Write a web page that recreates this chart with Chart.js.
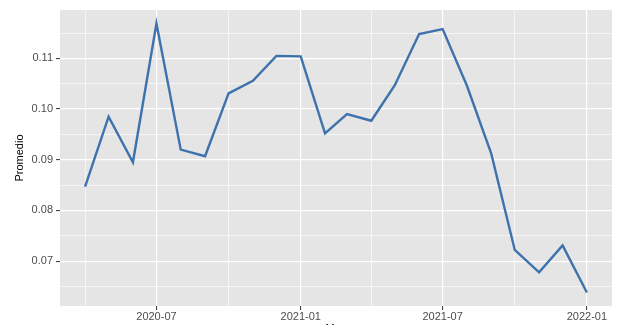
<!DOCTYPE html>
<html lang="es">
<head>
<meta charset="utf-8" />
<script src="https://cdn.jsdelivr.net/npm/chart.js@4.4.1/dist/chart.umd.min.js"></script>
<style>
  html, body { margin: 0; padding: 0; background: #fff; overflow: hidden; }
  canvas { display: block; }
</style>
<title>Promedio por mes</title>
</head>
<body>
<canvas id="grafico" width="619" height="336"></canvas>
<script>
// datos
const meses = ["2020-04", "2020-05", "2020-06", "2020-07", "2020-08", "2020-09", "2020-10", "2020-11",
  "2020-12", "2021-01", "2021-02", "2021-03", "2021-04", "2021-05", "2021-06", "2021-07",
  "2021-08", "2021-09", "2021-10", "2021-11", "2021-12", "2022-01"];
const promedio = [0.0847, 0.0985, 0.0895, 0.1169, 0.0920, 0.0907, 0.1031, 0.1056,
  0.1105, 0.1104, 0.0952, 0.0990, 0.0977, 0.1047, 0.1148, 0.1158,
  0.1046, 0.0912, 0.0722, 0.0678, 0.0731, 0.0638];
const etiquetasX = ["2020-07", "2021-01", "2021-07", "2022-01"];
const menoresX = ["2020-04", "2020-10", "2021-04", "2021-10"];
const etiquetasY = [0.07, 0.08, 0.09, 0.10, 0.11];
const menoresY = [0.065, 0.075, 0.085, 0.095, 0.105, 0.115];

// fecha "AAAA-MM" -> dias desde 1970
function dia(m) {
  return Date.UTC(Number(m.slice(0, 4)), Number(m.slice(5, 7)) - 1, 1) / 864e5;
}

const puntos = meses.map((m, i) => ({ x: dia(m), y: promedio[i] }));

// expansion del 5% como ggplot
const xs = puntos.map(p => p.x);
const xMin = Math.min(...xs), xMax = Math.max(...xs);
const yMin = Math.min(...promedio), yMax = Math.max(...promedio);
const dx = (xMax - xMin) * 0.05, dy = (yMax - yMin) * 0.05;

const fondoPanel = {
  id: "fondoPanel",
  beforeDraw(chart) {
    const { ctx, chartArea: a } = chart;
    ctx.save();
    ctx.fillStyle = "#E5E5E5";
    ctx.fillRect(a.left, a.top, a.right - a.left, a.bottom - a.top);
    ctx.restore();
  }
};

const grilla = {
  color: "#FFFFFF",
  lineWidth: c => (c.tick && c.tick.menor ? 0.6 : 1.2),
  tickColor: c => (c.tick && c.tick.menor ? "rgba(0,0,0,0)" : "#333333"),
  tickWidth: 1,
  tickLength: 4
};

new Chart(document.getElementById("grafico").getContext("2d"), {
  type: "line",
  data: {
    datasets: [{
      data: puntos,
      borderColor: "#3D72AC",
      borderWidth: 2.4,
      pointRadius: 0,
      tension: 0,
      fill: false
    }]
  },
  plugins: [fondoPanel],
  options: {
    responsive: false,
    animation: false,
    devicePixelRatio: 1,
    layout: { padding: { top: 10, right: 7, left: 0, bottom: 0 } },
    plugins: { legend: { display: false }, tooltip: { enabled: false } },
    scales: {
      x: {
        type: "linear",
        min: xMin - dx,
        max: xMax + dx,
        afterBuildTicks: s => {
          s.ticks = menoresX.map(m => ({ value: dia(m), menor: true }))
            .concat(etiquetasX.map(m => ({ value: dia(m) })))
            .sort((a, b) => a.value - b.value);
        },
        afterFit: s => { s.height = 30; },
        grid: grilla,
        border: { display: false },
        ticks: {
          autoSkip: false,
          maxRotation: 0,
          padding: 0,
          color: "#4D4D4D",
          font: { family: "Liberation Sans", size: 11 },
          callback: v => {
            const m = etiquetasX.find(e => dia(e) === v);
            return m ? m : "";
          }
        },
        title: {
          display: true,
          text: "Mes",
          color: "#000000",
          font: { family: "Liberation Sans", size: 11 },
          padding: { top: 4, bottom: 0 }
        }
      },
      y: {
        min: yMin - dy,
        max: yMax + dy,
        afterBuildTicks: s => {
          s.ticks = menoresY.map(v => ({ value: v, menor: true }))
            .concat(etiquetasY.map(v => ({ value: v })))
            .sort((a, b) => a.value - b.value);
        },
        afterFit: s => { s.width = 60; },
        grid: grilla,
        border: { display: false },
        ticks: {
          autoSkip: false,
          padding: 3,
          color: "#4D4D4D",
          font: { family: "Liberation Sans", size: 11 },
          callback: v => (etiquetasY.some(e => Math.abs(e - v) < 1e-9) ? v.toFixed(2) : "")
        },
        title: {
          display: true,
          text: "Promedio",
          color: "#000000",
          font: { family: "Liberation Sans", size: 11 },
          padding: { top: 13, bottom: 0 }
        }
      }
    }
  }
});
</script>
</body>
</html>
